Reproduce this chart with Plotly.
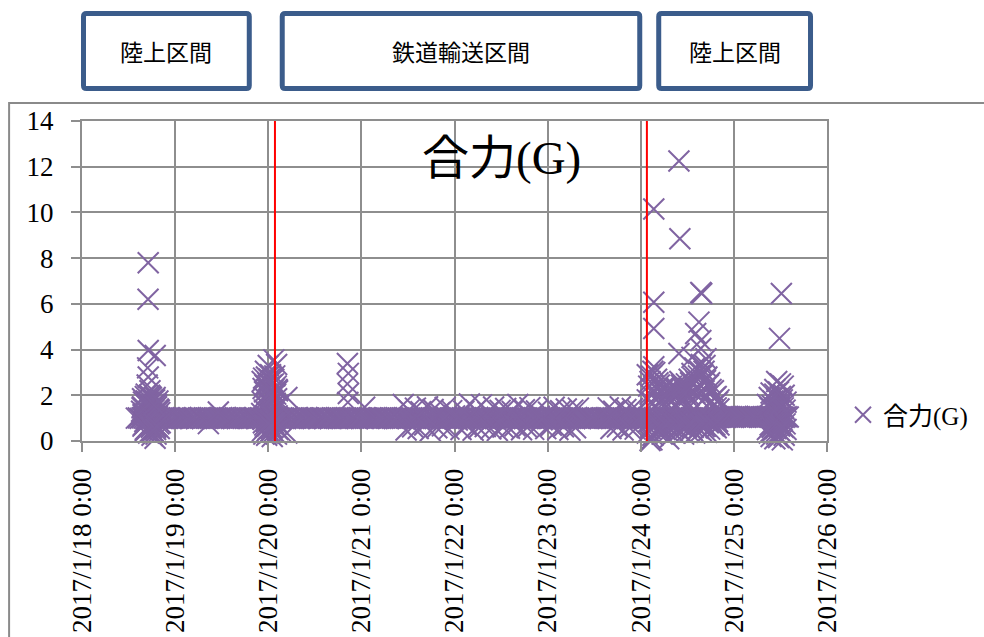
import pandas as pd
import plotly.graph_objects as go

ORIGIN = pd.Timestamp("2017-01-18 00:00")

# ---- data -------------------------------------------------------------
# Half-hourly resultant acceleration (G), starting 2017/1/18 14:00
halfhour_start = pd.Timestamp("2017-01-18 14:00")
halfhour_g = [
    1.00, 1.01, 0.99, 1.02, 1.00, 0.98, 1.01, 1.00, 0.99, 1.03, 1.00, 0.98,
    1.01, 0.99, 1.02, 1.00, 0.99, 1.01, 0.98, 1.00, 1.02, 0.99, 1.01, 1.00,
    0.98, 1.01, 1.00, 1.02, 0.99, 1.00, 1.01, 0.98, 1.00, 1.03, 0.99, 1.01,
    1.00, 0.99, 1.02, 1.00, 0.98, 1.01, 1.00, 0.99, 1.02, 1.01, 0.99, 1.00,
    1.01, 0.99, 1.00, 1.02, 0.98, 1.00, 1.01, 0.99, 1.03, 1.00, 0.98, 1.01,
    1.00, 1.02, 0.99, 1.00, 1.01, 0.98, 1.00, 1.02, 0.99, 1.01, 1.00, 0.99,
    1.00, 1.02, 0.98, 1.01, 0.99, 1.00, 1.03, 0.99, 1.01, 0.98, 1.00, 1.02,
    0.99, 1.01, 1.00, 0.98, 1.02, 1.00, 0.99, 1.01, 1.00, 1.02, 0.98, 1.00,
    1.01, 0.99, 1.02, 1.00, 0.98, 1.01, 1.00, 0.99, 1.02, 1.00, 0.98, 1.01,
    0.99, 1.00, 1.02, 0.99, 1.01, 1.00, 0.98, 1.02, 1.00, 0.99, 1.01, 1.00,
    0.99, 1.01, 1.00, 1.02, 0.98, 1.00, 1.01, 0.99, 1.02, 1.00, 0.99, 1.01,
    1.00, 0.98, 1.02, 1.00, 0.99, 1.01, 1.00, 1.02, 0.98, 1.00, 1.01, 0.99,
    1.00, 1.02, 0.99, 1.01, 0.98, 1.00, 1.02, 0.99, 1.01, 1.00, 0.98, 1.02,
    1.00, 0.99, 1.01, 1.00, 1.02, 0.98, 1.00, 1.01, 0.99, 1.00, 1.02, 0.99,
    1.01, 0.98, 1.00, 1.02, 0.99, 1.01, 1.00, 0.98, 1.03, 1.00, 0.99, 1.01,
    1.02, 0.99, 1.00, 1.01, 0.98, 1.00, 1.02, 0.99, 1.01, 1.00, 0.98, 1.01,
    1.00, 0.99, 1.02, 1.00, 1.01, 0.98, 1.00, 1.02, 0.99, 1.01, 1.00, 0.98,
    1.01, 1.02, 0.99, 1.00, 1.01, 0.99, 1.02, 1.00, 0.98, 1.01, 1.00, 0.99,
    1.02, 1.00, 0.99, 1.01, 0.98, 1.00, 1.02, 1.01, 0.99, 1.00, 0.98, 1.02,
    1.00, 0.99, 1.01, 1.00, 1.02, 0.98, 1.01, 1.00, 0.99, 1.02, 1.00, 0.98,
    1.01, 1.00, 0.99, 1.02, 1.00, 0.98, 1.01, 0.99, 1.00, 1.02, 0.99, 1.01,
    1.00, 0.98, 1.02, 1.00, 0.99, 1.01, 1.00, 1.02, 0.98, 1.00, 1.01, 0.99,
    1.00, 1.01, 0.99, 1.02, 1.00, 0.98, 1.01, 1.00, 0.99, 1.03, 1.00, 0.98,
    1.01, 0.99, 1.02, 1.00, 0.99, 1.01, 0.98, 1.00, 1.02, 0.99, 1.01, 1.00,
    1.00, 1.02, 0.99, 1.01, 0.98, 1.00, 1.02, 0.99, 1.01, 1.00, 0.98, 1.02,
    1.03, 1.05, 1.06, 1.04, 1.07, 1.05, 1.06, 1.04, 1.05, 1.07, 1.06, 1.04,
    1.05, 1.06, 1.04, 1.07, 1.05, 1.06, 1.04, 1.05, 1.07, 1.06, 1.04, 1.05,
    1.06, 1.05, 1.07, 1.04, 1.06, 1.05, 1.04, 1.06, 1.07, 1.05, 1.04, 1.06,
    1.05,
]

# Shock readings, elapsed days since 2017/1/18 0:00 and G
jan18_day = [0.711, 0.709, 0.711, 0.786, 0.705, 0.711, 0.700, 0.730, 0.690, 0.745,
             0.780, 0.660, 0.800, 0.650, 0.720, 0.820, 0.640, 0.770, 0.835, 0.655,
             0.810, 0.700, 0.840, 0.660, 0.790, 0.680, 0.830, 0.742, 0.785, 0.752,
             0.645, 0.690, 0.760, 0.825, 0.670, 0.715, 0.805, 0.735, 0.675, 0.795,
             0.650, 0.665, 0.680, 0.695, 0.710, 0.725, 0.740, 0.755, 0.770, 0.785,
             0.800, 0.815, 0.830, 0.655, 0.670, 0.685, 0.700, 0.715, 0.730, 0.745,
             0.760, 0.775, 0.790, 0.805,
             1.357, 1.464]
jan18_g = [7.80, 6.20, 3.96, 3.74, 3.20, 2.80, 2.45, 2.20, 2.05, 1.90,
           1.80, 1.70, 1.60, 1.50, 1.55, 1.40, 1.30, 1.35, 1.25, 1.15,
           1.10, 0.90, 0.80, 0.70, 0.60, 0.50, 0.55, 0.39, 0.12, 0.25,
           1.45, 1.75, 0.45, 0.75, 1.20, 1.65, 1.05, 1.95, 0.85, 0.30,
           1.85, 1.40, 1.95, 1.55, 1.70, 2.00, 1.45, 1.80, 1.60, 1.90,
           1.50, 1.75, 1.35, 0.65, 0.40, 0.80, 0.55, 0.35, 0.70, 0.60,
           0.45, 0.75, 0.50, 0.65,
           0.76, 1.27]

jan20_day = [1.935, 1.950, 1.965, 1.980, 1.995, 2.010, 2.025, 2.040, 2.055, 2.070, 2.085, 2.100,
             1.940, 1.955, 1.970, 1.985, 2.000, 2.015, 2.030, 2.045, 2.060, 2.075, 2.090, 2.105,
             1.930, 1.945, 1.960, 1.975, 1.990, 2.005, 2.020, 2.035, 2.050, 2.065, 2.080, 2.095,
             1.938, 1.953, 1.968, 1.983, 1.998, 2.013, 2.028, 2.043, 2.058, 2.073, 2.088, 2.103,
             1.945, 1.960, 1.975, 1.990, 2.005, 2.020, 2.035, 2.050, 2.065, 2.080, 2.095,
             1.948, 1.963, 1.978, 1.993, 2.008, 2.023, 2.038, 2.053, 2.068, 2.083, 2.098,
             2.060, 2.000, 2.090, 1.970, 2.120, 2.140, 2.200, 2.200,
             2.850, 2.860, 2.850, 2.860, 2.855, 3.035]
jan20_g = [2.60, 2.75, 2.45, 2.80, 2.55, 2.70, 2.90, 2.65, 2.50, 2.85, 2.40, 2.20,
           1.70, 1.90, 1.55, 2.05, 1.80, 1.60, 1.95, 1.75, 2.10, 1.65, 1.85, 1.50,
           1.20, 0.95, 1.35, 1.10, 1.25, 0.90, 1.30, 1.15, 1.05, 1.40, 0.85, 1.10,
           0.45, 0.30, 0.60, 0.25, 0.50, 0.35, 0.55, 0.20, 0.40, 0.65, 0.30, 0.50,
           2.30, 2.15, 2.40, 2.25, 2.35, 2.10, 2.45, 2.20, 2.30, 2.05, 2.25,
           0.80, 0.70, 0.85, 0.65, 0.75, 0.90, 0.60, 0.80, 0.70, 0.85, 0.75,
           3.55, 3.30, 3.35, 3.05, 1.60, 0.40, 0.35, 1.90,
           3.39, 2.96, 2.50, 2.08, 1.69, 1.48]

rail_day = [3.45, 3.48, 3.51, 3.55, 3.58, 3.61, 3.64, 3.68, 3.71, 3.74,
            3.77, 3.81, 3.84, 3.87, 3.90, 3.94, 3.97, 4.00, 4.03, 4.07,
            4.10, 4.13, 4.16, 4.20, 4.23, 4.26, 4.29, 4.33, 4.36, 4.39,
            4.42, 4.46, 4.49, 4.52, 4.55, 4.59, 4.62, 4.65, 4.68, 4.72,
            4.75, 4.78, 4.81, 4.85, 4.88, 4.91, 4.94, 4.98, 5.01, 5.04,
            5.07, 5.11, 5.14, 5.17, 5.20, 5.24, 5.27, 5.30, 5.33,
            5.65, 5.68, 5.71, 5.75, 5.78, 5.81, 5.84, 5.88, 5.91, 5.94, 5.97]
rail_g = [1.60, 0.48, 1.35, 0.62, 1.44, 0.55, 1.28, 0.70, 1.50, 0.45,
          1.38, 0.58, 1.25, 0.66, 1.47, 0.52, 1.33, 1.10, 0.92, 0.50,
          1.30, 0.68, 1.62, 0.47, 1.36, 0.57, 1.58, 0.63, 1.27, 0.53,
          1.49, 0.46, 1.34, 0.61, 1.42, 0.56, 1.29, 0.67, 1.60, 0.49,
          1.37, 0.59, 1.46, 0.51, 1.31, 1.08, 0.93, 0.54, 1.26, 0.69,
          1.48, 0.50, 1.32, 0.62, 1.40, 0.47, 1.35, 0.58, 1.44,
          1.45, 0.55, 1.30, 0.62, 1.50, 0.48, 1.38, 0.58, 1.42, 0.52, 1.33]

jan24_day = [6.07, 6.10, 6.13, 6.17, 6.20, 6.23, 6.26, 6.30, 6.33, 6.36,
             6.39, 6.42, 6.46, 6.49, 6.52, 6.55, 6.58, 6.62, 6.65, 6.68,
             6.71, 6.74, 6.78, 6.81, 6.84]
jan24_high_g = [2.90, 2.60, 3.05, 2.70, 2.45, 2.20, 2.35, 2.05, 2.40, 2.15,
                2.30, 2.60, 2.25, 2.50, 2.70, 2.95, 3.20, 2.85, 3.35, 3.05,
                2.80, 2.55, 2.20, 1.95, 1.80]
jan24_mid_g = [1.80, 2.05, 1.65, 1.95, 1.70, 1.85, 1.60, 1.90, 1.75, 1.55,
               1.95, 1.70, 1.85, 1.60, 2.00, 1.75, 2.10, 1.90, 2.20, 1.85,
               1.95, 1.65, 1.55, 1.45, 1.40]
jan24_low_g = [0.35, 0.55, 0.25, 0.45, 0.60, 0.30, 0.50, 0.40, 0.65, 0.35,
               0.55, 0.45, 0.30, 0.60, 0.40, 0.50, 0.35, 0.55, 0.45, 0.62,
               0.38, 0.52, 0.66, 0.58, 0.70]
jan24_mid_day = [6.085, 6.115, 6.145, 6.185, 6.215, 6.245, 6.275, 6.315, 6.345, 6.375,
                 6.405, 6.435, 6.475, 6.505, 6.535, 6.565, 6.595, 6.635, 6.665, 6.695,
                 6.725, 6.755, 6.795, 6.825]
jan24_upper_g = [2.40, 2.85, 2.20, 2.55, 2.10, 2.35, 1.95, 2.25, 2.00, 2.30,
                 2.15, 2.45, 2.05, 2.30, 2.55, 2.75, 2.60, 3.05, 2.90, 2.65,
                 2.45, 2.25, 1.90, 1.70]
jan24_lower_g = [0.85, 0.65, 0.95, 0.75, 0.55, 0.80, 0.70, 0.90, 0.60, 0.85,
                 0.75, 0.65, 0.90, 0.70, 0.80, 0.60, 0.95, 0.75, 0.85, 0.65,
                 0.80, 0.90, 0.70, 0.85]
jan24_peak_day = [6.140, 6.410, 6.420, 6.645, 6.655, 6.140, 6.140, 6.140, 6.625, 6.590,
                  6.645, 6.645, 6.410, 6.550, 6.100, 6.120, 6.300, 6.150, 6.700, 6.690]
jan24_peak_g = [10.15, 12.25, 8.85, 6.50, 6.45, 6.07, 4.92, 3.25, 5.20, 4.70,
                4.40, 4.05, 3.83, 3.66, 0.02, 0.05, 0.10, 3.00, 3.60, 3.30]

jan25_day = [7.38, 7.40, 7.42, 7.44, 7.46, 7.48, 7.50, 7.52, 7.54, 7.56]
jan25_high_g = [1.90, 2.10, 1.75, 2.05, 1.85, 2.15, 1.95, 1.80, 2.00, 1.70]
jan25_low_g = [0.35, 0.20, 0.45, 0.10, 0.30, 0.15, 0.40, 0.05, 0.25, 0.50]
jan25_mid_day = [7.39, 7.41, 7.43, 7.45, 7.47, 7.49, 7.51, 7.53, 7.55]
jan25_upper_g = [1.45, 1.55, 1.35, 1.60, 1.40, 1.50, 1.65, 1.45, 1.35]
jan25_lower_g = [0.70, 0.60, 0.75, 0.55, 0.80, 0.65, 0.70, 0.60, 0.75]
jan25_peak_day = [7.510, 7.490, 7.460, 7.500, 7.530, 7.440, 7.360, 7.360]
jan25_peak_g = [6.45, 4.49, 2.60, 2.50, 2.40, 2.25, 1.60, 0.50]

# rail leg start / end (elapsed days)
rail_boundary_day = [2.072, 6.066]

section_labels = ["陸上区間", "鉄道輸送区間", "陸上区間"]
series_name = "合力(G)"
tick_days = [0, 1, 2, 3, 4, 5, 6, 7, 8]
tick_labels = ["2017/1/18 0:00", "2017/1/19 0:00", "2017/1/20 0:00",
               "2017/1/21 0:00", "2017/1/22 0:00", "2017/1/23 0:00",
               "2017/1/24 0:00", "2017/1/25 0:00", "2017/1/26 0:00"]
y_ticks = [0, 2, 4, 6, 8, 10, 12, 14]

# ---- assemble the single series ---------------------------------------
times = [halfhour_start + pd.Timedelta(minutes=30 * i) for i in range(len(halfhour_g))]
values = list(halfhour_g)
groups = [
    (jan18_day, jan18_g), (jan20_day, jan20_g), (rail_day, rail_g),
    (jan24_day, jan24_high_g), (jan24_day, jan24_mid_g), (jan24_day, jan24_low_g),
    (jan24_mid_day, jan24_upper_g), (jan24_mid_day, jan24_lower_g),
    (jan24_peak_day, jan24_peak_g),
    (jan25_day, jan25_high_g), (jan25_day, jan25_low_g),
    (jan25_mid_day, jan25_upper_g), (jan25_mid_day, jan25_lower_g),
    (jan25_peak_day, jan25_peak_g),
]
for days, gs in groups:
    for d, g in zip(days, gs):
        times.append(ORIGIN + pd.Timedelta(days=d))
        values.append(g)

def at(day):
    return ORIGIN + pd.Timedelta(days=day)

# ---- page geometry (pixels) -------------------------------------------
W, H = 984, 637
PLOT_L, PLOT_R, PLOT_T, PLOT_B = 82, 828, 121, 441

def px(x):
    return (x - PLOT_L) / (PLOT_R - PLOT_L)

def py(y):
    return (PLOT_B - y) / (PLOT_B - PLOT_T)

PURPLE = "#8064A2"
GRID = "#8e8e8e"
BOX = "#3B5C8B"
SERIF = "Liberation Serif, Noto Sans CJK JP, serif"
TICK_FONT = "Liberation Serif"
GOTHIC = "Noto Sans CJK JP, sans-serif"

fig = go.Figure()
fig.add_trace(go.Scatter(
    x=times, y=values, mode="markers", name=series_name,
    cliponaxis=False,
    marker=dict(symbol="x-thin", size=21, color=PURPLE,
                line=dict(width=2, color=PURPLE)),
))

shapes = []
# rail leg boundaries
for d in rail_boundary_day:
    shapes.append(dict(type="line", xref="x", yref="y",
                       x0=at(d), x1=at(d), y0=-0.2, y1=14,
                       line=dict(color="#FF0000", width=2)))

# chart-area frame (left and top edges)
shapes.append(dict(type="path", xref="paper", yref="paper",
                   path=f"M {px(9)},{py(700)} L {px(9)},{py(103)} L {px(1000)},{py(103)}",
                   line=dict(color="#8a8a8a", width=2)))

# section boxes
def rounded_box(x0, y0, x1, y1, r=3):
    return (f"M {px(x0 + r)},{py(y0)} L {px(x1 - r)},{py(y0)} "
            f"Q {px(x1)},{py(y0)} {px(x1)},{py(y0 + r)} "
            f"L {px(x1)},{py(y1 - r)} Q {px(x1)},{py(y1)} {px(x1 - r)},{py(y1)} "
            f"L {px(x0 + r)},{py(y1)} Q {px(x0)},{py(y1)} {px(x0)},{py(y1 - r)} "
            f"L {px(x0)},{py(y0 + r)} Q {px(x0)},{py(y0)} {px(x0 + r)},{py(y0)} Z")

boxes = [(83.5, 13.5, 249.5, 88.5), (282.5, 13.5, 640.5, 88.5), (659.5, 13.5, 811.5, 88.5)]
annotations = []
for (x0, y0, x1, y1), label in zip(boxes, section_labels):
    shapes.append(dict(type="path", xref="paper", yref="paper",
                       path=rounded_box(x0, y0, x1, y1),
                       fillcolor="white", line=dict(color=BOX, width=5)))
    annotations.append(dict(xref="paper", yref="paper",
                            x=px((x0 + x1) / 2), y=py(51),
                            text=label, showarrow=False,
                            xanchor="center", yanchor="middle",
                            font=dict(family=GOTHIC, size=23, color="#000000")))

# chart title inside the plot area
annotations.append(dict(xref="paper", yref="paper", x=px(502), y=py(158),
                        text=series_name, showarrow=False,
                        xanchor="center", yanchor="middle",
                        font=dict(family=SERIF, size=47, color="#000000")))

axis_common = dict(
    showgrid=True, gridcolor=GRID, gridwidth=2,
    showline=True, linecolor=GRID, linewidth=2, mirror=True,
    ticks="outside", ticklen=9, tickwidth=2, tickcolor=GRID,
    zeroline=False, automargin=False,
)

fig.update_layout(
    width=W, height=H, autosize=False,
    margin=dict(l=PLOT_L, r=W - PLOT_R, t=PLOT_T, b=H - PLOT_B, pad=0),
    paper_bgcolor="white", plot_bgcolor="white",
    font=dict(family=SERIF, color="#000000"),
    showlegend=True,
    legend=dict(x=px(843), y=py(415), xanchor="left", yanchor="middle",
                bgcolor="rgba(0,0,0,0)", borderwidth=0,
                font=dict(family=SERIF, size=25, color="#000000")),
    xaxis=dict(type="date", range=[at(0), at(8)],
               tickvals=[at(d) for d in tick_days], ticktext=tick_labels,
               tickangle=-90, ticklabelstandoff=6,
               tickfont=dict(family=TICK_FONT, size=27, color="#000000"),
               **axis_common),
    yaxis=dict(range=[0, 14], tickvals=y_ticks,
               ticktext=[str(v) for v in y_ticks],
               ticklabelstandoff=12,
               tickfont=dict(family=TICK_FONT, size=27, color="#000000"),
               **axis_common),
    shapes=shapes,
    annotations=annotations,
)

fig.write_html("out.html")
